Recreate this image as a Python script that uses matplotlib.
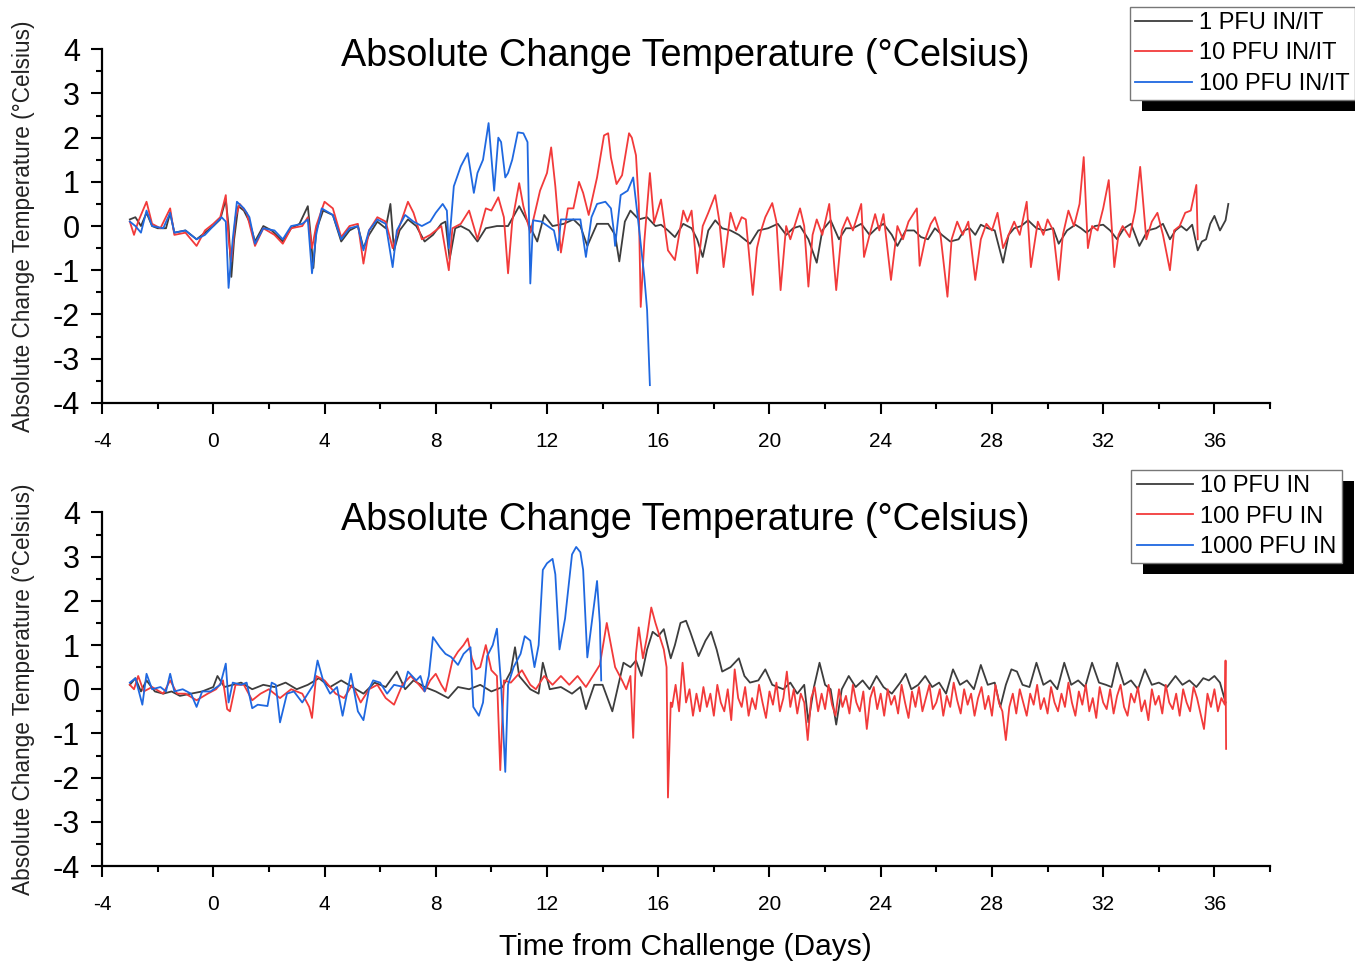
"""Absolute change in body temperature after challenge (two cohorts)."""

import numpy as np
import matplotlib
matplotlib.use("Agg")
import matplotlib.pyplot as plt
import matplotlib.ticker as mticker
from matplotlib.patches import Rectangle

plt.rcParams["font.family"] = ["Liberation Sans", "DejaVu Sans"]
plt.rcParams["axes.unicode_minus"] = False

TITLE = "Absolute Change Temperature (°Celsius)"
YLABEL = "Absolute Change Temperature (°Celsius)"
XLABEL = "Time from Challenge (Days)"

top_labels = ["1 PFU IN/IT", "10 PFU IN/IT", "100 PFU IN/IT"]
bottom_labels = ["10 PFU IN", "100 PFU IN", "1000 PFU IN"]

# (day, delta temp)
top_black = [
    (-3.0, 0.15), (-2.8, 0.2), (-2.6, 0.0), (-2.4, 0.3), (-2.2, 0.0), (-2.0, -0.05), (-1.7, -0.05),
    (-1.55, 0.3), (-1.4, -0.15), (-1.0, -0.1), (-0.6, -0.3), (-0.3, -0.15), (0.0, 0.0), (0.25, 0.15),
    (0.45, 0.6), (0.55, 0.0), (0.65, -1.15), (0.75, -0.3), (0.9, 0.45), (1.1, 0.35), (1.3, 0.1),
    (1.5, -0.35), (1.8, 0.0), (2.1, -0.1), (2.5, -0.35), (2.8, -0.05), (3.1, 0.05), (3.4, 0.45),
    (3.5, -0.2), (3.6, -0.95), (3.7, -0.1), (3.95, 0.35), (4.3, 0.25), (4.6, -0.35), (4.9, -0.1),
    (5.2, 0.0), (5.4, -0.5), (5.6, -0.2), (5.9, 0.1), (6.2, -0.05), (6.37, 0.5), (6.5, -0.55),
    (6.7, -0.1), (7.0, 0.15), (7.3, 0.0), (7.6, -0.35), (7.9, -0.2), (8.2, 0.05), (8.35, 0.1),
    (8.5, -0.75), (8.7, -0.05), (8.9, 0.0), (9.2, -0.1), (9.5, -0.35), (9.8, -0.05), (10.2, 0.0),
    (10.6, 0.0), (11.0, 0.45), (11.3, 0.1), (11.65, -0.35), (11.9, 0.25), (12.2, 0.0), (12.6, 0.05),
    (12.95, 0.15), (13.2, 0.0), (13.45, -0.45), (13.8, 0.05), (14.2, 0.05), (14.45, -0.2), (14.6, -0.8),
    (14.8, 0.1), (15.0, 0.35), (15.3, 0.15), (15.6, 0.2), (15.9, 0.0), (16.1, 0.03), (16.35, -0.1),
    (16.6, -0.25), (16.9, 0.05), (17.2, -0.05), (17.4, -0.3), (17.6, -0.7), (17.8, -0.1), (18.05, 0.13),
    (18.3, -0.05), (18.6, -0.1), (18.9, -0.2), (19.3, -0.4), (19.6, -0.1), (19.95, -0.05), (20.3, 0.05),
    (20.6, -0.2), (20.85, -0.05), (21.1, 0.0), (21.4, -0.3), (21.7, -0.83), (21.9, -0.1), (22.2, 0.13),
    (22.5, -0.3), (22.75, -0.05), (23.0, -0.05), (23.3, 0.05), (23.6, -0.2), (23.85, -0.05), (24.1, 0.05),
    (24.4, -0.2), (24.6, -0.45), (24.9, -0.1), (25.2, -0.1), (25.45, -0.25), (25.7, -0.3), (25.95, -0.05),
    (26.2, -0.2), (26.5, -0.35), (26.8, -0.3), (27.0, -0.1), (27.2, -0.05), (27.4, -0.2), (27.6, 0.03),
    (27.85, -0.05), (28.1, -0.1), (28.4, -0.83), (28.6, -0.2), (28.8, -0.05), (29.05, 0.0), (29.3, 0.13),
    (29.6, -0.05), (29.9, -0.1), (30.2, -0.05), (30.4, -0.4), (30.7, -0.1), (31.0, 0.03), (31.2, -0.05),
    (31.4, -0.15), (31.7, 0.0), (32.0, 0.03), (32.25, -0.1), (32.5, -0.3), (32.75, -0.05), (33.0, 0.05),
    (33.3, -0.45), (33.6, -0.1), (33.9, -0.05), (34.15, 0.05), (34.4, -0.3), (34.6, -0.1), (34.8, 0.0),
    (35.0, -0.1), (35.2, 0.03), (35.4, -0.55), (35.55, -0.35), (35.7, -0.3), (35.85, 0.05), (36.0, 0.23),
    (36.2, -0.1), (36.4, 0.13), (36.5, 0.5),
]

top_red = [
    (-3.0, 0.1), (-2.85, -0.2), (-2.7, 0.1), (-2.4, 0.55), (-2.2, 0.05), (-1.9, -0.05), (-1.55, 0.4),
    (-1.4, -0.2), (-1.0, -0.15), (-0.6, -0.45), (-0.3, -0.1), (0.0, 0.05), (0.25, 0.2), (0.45, 0.7),
    (0.55, -0.3), (0.65, -0.8), (0.8, 0.2), (0.95, 0.5), (1.2, 0.3), (1.5, -0.45), (1.8, -0.05),
    (2.2, -0.2), (2.5, -0.4), (2.8, -0.05), (3.2, 0.0), (3.4, 0.2), (3.55, -0.5), (3.7, 0.0),
    (4.0, 0.55), (4.3, 0.4), (4.6, -0.25), (4.9, 0.0), (5.2, 0.05), (5.4, -0.85), (5.6, -0.1),
    (5.9, 0.2), (6.2, 0.1), (6.45, -0.5), (6.7, 0.0), (7.0, 0.55), (7.2, 0.3), (7.5, -0.3),
    (7.8, -0.2), (8.2, 0.0), (8.47, -1.0), (8.6, -0.05), (8.9, 0.05), (9.2, 0.35), (9.5, -0.3),
    (9.8, 0.4), (10.0, 0.35), (10.25, 0.65), (10.45, 0.2), (10.6, -1.07), (10.75, 0.1), (11.0, 0.97),
    (11.15, 0.45), (11.4, -0.15), (11.75, 0.8), (12.0, 1.2), (12.15, 1.78), (12.3, 0.9), (12.5, -0.6),
    (12.75, 0.4), (12.95, 0.4), (13.15, 1.0), (13.3, 0.75), (13.5, 0.25), (13.8, 1.1), (14.05, 2.05),
    (14.2, 2.1), (14.3, 1.55), (14.5, 0.95), (14.7, 1.15), (14.95, 2.1), (15.05, 2.0), (15.2, 1.6),
    (15.3, 0.5), (15.37, -1.83), (15.5, -0.35), (15.7, 1.2), (15.85, 0.07), (16.1, 0.6), (16.35, -0.55),
    (16.6, -0.77), (16.75, -0.2), (16.9, 0.35), (17.05, 0.1), (17.2, 0.35), (17.4, -1.07), (17.6, 0.0),
    (17.8, 0.3), (18.05, 0.7), (18.2, 0.1), (18.35, -0.93), (18.6, 0.3), (18.8, -0.1), (19.0, 0.2),
    (19.15, 0.15), (19.4, -1.56), (19.55, -0.5), (19.7, -0.1), (19.85, 0.2), (20.1, 0.52), (20.25, 0.1),
    (20.4, -1.45), (20.6, 0.0), (20.75, -0.3), (20.9, 0.0), (21.1, 0.4), (21.25, 0.0), (21.4, -1.37),
    (21.55, -0.2), (21.7, 0.15), (21.9, -0.2), (22.15, 0.5), (22.4, -1.45), (22.6, -0.1), (22.8, 0.2),
    (23.0, -0.1), (23.15, 0.2), (23.3, 0.5), (23.4, -0.7), (23.6, -0.2), (23.8, 0.27), (23.95, -0.1),
    (24.1, 0.27), (24.37, -1.22), (24.6, 0.0), (24.8, -0.3), (25.0, 0.1), (25.3, 0.4), (25.4, -0.9),
    (25.6, -0.3), (25.8, 0.05), (25.95, 0.2), (26.15, -0.2), (26.4, -1.6), (26.55, -0.3), (26.75, 0.1),
    (26.95, -0.2), (27.15, 0.1), (27.4, -1.22), (27.6, -0.3), (27.8, 0.05), (28.0, -0.1), (28.2, 0.3),
    (28.4, -0.5), (28.6, -0.2), (28.8, 0.1), (29.0, -0.2), (29.25, 0.55), (29.4, -0.93), (29.65, 0.1),
    (29.85, -0.2), (30.0, 0.15), (30.2, -0.1), (30.4, -1.22), (30.55, -0.2), (30.75, 0.35), (30.95, 0.0),
    (31.15, 0.5), (31.3, 1.56), (31.45, -0.5), (31.6, 0.0), (31.8, -0.1), (32.0, 0.4), (32.2, 1.04),
    (32.4, -0.93), (32.55, -0.2), (32.7, 0.0), (32.95, -0.25), (33.15, 0.35), (33.33, 1.34), (33.55, -0.3),
    (33.75, 0.1), (33.95, 0.3), (34.15, -0.2), (34.4, -1.0), (34.55, -0.1), (34.75, 0.0), (34.95, 0.3),
    (35.15, 0.35), (35.35, 0.93), (35.4, -0.3),
]

top_blue = [
    (-3.0, 0.1), (-2.8, 0.0), (-2.6, -0.15), (-2.4, 0.35), (-2.2, 0.0), (-1.8, -0.05), (-1.55, 0.3),
    (-1.4, -0.15), (-1.0, -0.1), (-0.6, -0.3), (-0.3, -0.2), (0.0, 0.0), (0.3, 0.2), (0.45, 0.1),
    (0.55, -1.4), (0.7, -0.3), (0.85, 0.55), (1.1, 0.4), (1.3, 0.2), (1.5, -0.4), (1.8, -0.05),
    (2.2, -0.1), (2.5, -0.3), (2.8, 0.0), (3.2, 0.05), (3.4, 0.15), (3.55, -1.07), (3.7, -0.2),
    (3.9, 0.4), (4.3, 0.25), (4.6, -0.3), (4.9, -0.05), (5.2, 0.0), (5.4, -0.55), (5.6, -0.1),
    (5.9, 0.15), (6.2, 0.05), (6.45, -0.93), (6.6, -0.1), (6.9, 0.25), (7.2, 0.1), (7.5, 0.0),
    (7.8, 0.1), (8.0, 0.3), (8.25, 0.5), (8.4, 0.35), (8.47, -0.5), (8.65, 0.9), (8.9, 1.35),
    (9.15, 1.65), (9.37, 0.75), (9.5, 1.2), (9.7, 1.5), (9.9, 2.33), (10.1, 0.8), (10.25, 2.0),
    (10.35, 1.9), (10.5, 1.1), (10.6, 1.2), (10.75, 1.5), (10.95, 2.12), (11.15, 2.1), (11.3, 1.9),
    (11.4, -1.3), (11.5, 0.13), (11.8, 0.1), (12.25, -0.1), (12.4, -0.55), (12.5, 0.15), (12.9, 0.15),
    (13.2, 0.15), (13.4, -0.7), (13.6, 0.2), (13.8, 0.5), (14.1, 0.55), (14.3, 0.4), (14.4, -0.1),
    (14.45, -0.45), (14.65, 0.7), (14.9, 0.8), (15.1, 1.1), (15.3, 0.0), (15.5, -1.15), (15.6, -1.9),
    (15.7, -3.6),
]

bottom_black = [
    (-3.0, 0.1), (-2.8, 0.25), (-2.6, -0.05), (-2.4, 0.2), (-2.1, -0.05), (-1.8, -0.1), (-1.5, -0.05),
    (-1.2, -0.15), (-0.8, -0.1), (-0.4, -0.05), (0.0, 0.05), (0.15, 0.3), (0.4, 0.05), (0.7, 0.1),
    (1.0, 0.15), (1.4, 0.0), (1.8, 0.1), (2.2, 0.05), (2.6, 0.15), (3.0, 0.0), (3.4, 0.1), (3.8, 0.25),
    (4.2, 0.05), (4.6, 0.2), (5.0, 0.05), (5.4, -0.1), (5.8, 0.15), (6.2, 0.05), (6.6, 0.4), (6.9, 0.0),
    (7.2, 0.2), (7.6, 0.05), (8.0, -0.05), (8.45, -0.2), (8.8, 0.05), (9.2, 0.0), (9.6, 0.1),
    (10.0, -0.05), (10.4, 0.05), (10.7, 0.4), (10.85, 0.95), (11.0, 0.3), (11.4, 0.0), (11.7, -0.1),
    (11.85, 0.6), (12.1, 0.0), (12.5, 0.05), (12.9, -0.1), (13.2, 0.05), (13.4, -0.45), (13.7, 0.1),
    (14.0, 0.1), (14.35, -0.5), (14.75, 0.6), (15.0, 0.5), (15.2, 0.65), (15.4, 0.3), (15.6, 0.9),
    (15.8, 1.3), (16.0, 1.2), (16.2, 1.36), (16.45, 0.7), (16.6, 1.0), (16.8, 1.5), (17.0, 1.55),
    (17.15, 1.3), (17.45, 0.75), (17.7, 1.1), (17.9, 1.3), (18.1, 0.9), (18.3, 0.4), (18.6, 0.5),
    (18.9, 0.7), (19.1, 0.3), (19.3, 0.15), (19.6, 0.2), (19.85, 0.45), (20.1, 0.1), (20.5, 0.0),
    (20.75, 0.15), (21.0, -0.1), (21.25, 0.1), (21.4, -0.75), (21.6, 0.05), (21.8, 0.6), (22.0, 0.1),
    (22.2, 0.0), (22.4, -0.8), (22.6, 0.0), (22.85, 0.3), (23.1, 0.05), (23.35, 0.2), (23.6, 0.0),
    (23.85, 0.3), (24.1, 0.05), (24.4, -0.1), (24.7, 0.15), (24.9, 0.35), (25.1, 0.0), (25.35, 0.1),
    (25.6, 0.3), (25.85, 0.05), (26.1, 0.15), (26.35, -0.1), (26.6, 0.45), (26.85, 0.1), (27.1, 0.2),
    (27.35, 0.0), (27.6, 0.55), (27.85, 0.1), (28.1, 0.15), (28.3, -0.4), (28.5, 0.1), (28.7, 0.45),
    (28.9, 0.4), (29.1, 0.1), (29.35, 0.05), (29.6, 0.6), (29.85, 0.1), (30.1, 0.2), (30.35, 0.0),
    (30.6, 0.6), (30.85, 0.1), (31.1, 0.2), (31.35, 0.05), (31.6, 0.6), (31.85, 0.15), (32.1, 0.1),
    (32.3, 0.05), (32.5, 0.6), (32.75, 0.1), (33.0, 0.2), (33.25, 0.0), (33.5, 0.45), (33.75, 0.1),
    (34.0, 0.15), (34.3, 0.05), (34.6, 0.3), (34.85, 0.1), (35.1, 0.2), (35.35, 0.05), (35.6, 0.25),
    (35.8, 0.2), (36.0, 0.3), (36.2, 0.15), (36.4, -0.3),
]

bottom_red_early = [
    (-3.0, 0.1), (-2.85, 0.0), (-2.7, 0.3), (-2.5, -0.05), (-2.2, 0.05), (-1.8, -0.1), (-1.55, 0.2),
    (-1.3, -0.1), (-1.0, -0.1), (-0.6, -0.25), (-0.2, -0.1), (0.1, 0.0), (0.35, 0.2), (0.5, -0.45),
    (0.6, -0.5), (0.8, 0.1), (1.1, 0.1), (1.4, -0.25), (1.7, -0.1), (2.0, 0.0), (2.4, -0.2),
    (2.8, 0.0), (3.2, -0.1), (3.45, -0.4), (3.55, -0.65), (3.7, 0.3), (4.0, 0.2), (4.4, -0.1),
    (4.7, -0.2), (5.0, 0.1), (5.3, -0.3), (5.6, 0.0), (5.9, 0.1), (6.2, -0.2), (6.5, -0.35),
    (6.8, 0.1), (7.1, 0.3), (7.4, 0.1), (7.6, -0.05), (7.8, 0.2), (8.0, 0.35), (8.2, 0.1),
    (8.35, -0.05), (8.6, 0.65), (8.8, 0.85), (9.0, 1.0), (9.15, 1.15), (9.3, 0.7), (9.45, 0.45),
    (9.6, 0.5), (9.8, 1.0), (10.0, 0.43), (10.2, 0.3), (10.32, -1.83), (10.45, 0.2), (10.7, 0.15),
    (11.1, 0.43), (11.4, 0.1), (11.6, 0.0), (11.9, 0.3), (12.2, 0.1), (12.5, 0.3), (12.8, 0.1),
    (13.1, 0.3), (13.4, 0.05), (13.7, 0.35), (13.9, 0.55), (14.15, 1.5), (14.3, 1.0), (14.45, 0.5),
    (14.7, 0.2), (14.85, 0.0), (15.0, 0.3), (15.1, -1.1), (15.2, 0.8), (15.3, 1.4), (15.45, 0.7),
    (15.6, 1.2), (15.75, 1.85), (15.9, 1.5), (16.05, 1.2), (16.2, 0.9), (16.3, 0.5), (16.35, -2.45),
    (16.45, -0.3),
]

# noisy tail of the 100 PFU IN trace, 8 readings per day from day 16.5
bottom_red_tail = [
    -0.4, 0.1, -0.5, 0.6, -0.3, 0.0, -0.6, -0.1,
    -0.5, 0.05, -0.4, -0.1, -0.6, 0.1, -0.3, -0.5,
    0.0, -0.7, 0.45, -0.2, -0.4, 0.05, -0.6, -0.2,
    -0.45, 0.1, -0.3, -0.65, -0.05, -0.35, 0.15, -0.5,
    -0.2, 0.4, -0.4, 0.0, -0.55, -0.1, -0.3, -1.15,
    -0.2, 0.05, -0.5, -0.1, -0.45, 0.1, -0.35, -0.6,
    0.0, -0.4, -0.15, -0.55, 0.1, -0.3, -0.5, -0.05,
    -0.9, -0.2, 0.05, -0.45, -0.1, -0.6, 0.0, -0.35,
    -0.15, -0.55, 0.1, -0.3, -0.65, -0.05, -0.4, 0.05,
    -0.5, -0.2, 0.1, -0.45, -0.3, 0.0, -0.6, -0.15,
    -0.4, 0.15, -0.25, -0.55, 0.0, -0.35, -0.1, -0.6,
    -0.2, 0.05, -0.45, -0.15, -0.6, 0.1, -0.3, -0.5,
    -1.15, -0.4, -0.1, -0.55, 0.0, -0.3, -0.6, -0.1,
    -0.35, 0.1, -0.45, -0.2, -0.55, 0.05, -0.3, -0.5,
    -0.1, -0.4, 0.15, -0.3, -0.6, -0.05, -0.35, 0.1,
    -0.5, -0.2, -0.65, 0.05, -0.3, -0.45, 0.0, -0.55,
    -0.15, 0.1, -0.4, -0.6, -0.1, -0.3, 0.05, -0.5,
    -0.25, -0.7, 0.0, -0.35, -0.15, -0.55, 0.1, -0.3,
    -0.45, -0.1, -0.6, 0.0, -0.3, -0.5, 0.05, -0.2,
    -0.55, -0.9, -0.1, -0.4, 0.0, -0.5, -0.2, -0.35,
]
bottom_red_end = [(36.4, 0.65), (36.42, -1.35)]

bottom_blue = [
    (-3.0, 0.15), (-2.8, 0.25), (-2.55, -0.35), (-2.4, 0.35), (-2.2, 0.0), (-1.9, 0.05), (-1.7, -0.05),
    (-1.55, 0.35), (-1.4, -0.05), (-1.1, 0.0), (-0.8, -0.1), (-0.6, -0.4), (-0.4, -0.05), (-0.1, -0.05),
    (0.25, 0.1), (0.45, 0.58), (0.55, -0.3), (0.7, 0.15), (1.0, 0.1), (1.2, 0.15), (1.4, -0.43),
    (1.6, -0.35), (1.95, -0.38), (2.1, 0.15), (2.25, 0.1), (2.4, -0.75), (2.65, -0.1), (2.9, -0.05),
    (3.2, -0.3), (3.4, -0.1), (3.6, 0.1), (3.75, 0.65), (3.95, 0.2), (4.2, -0.1), (4.45, 0.05),
    (4.65, -0.6), (4.95, 0.35), (5.2, -0.5), (5.4, -0.7), (5.6, 0.0), (5.75, 0.2), (6.0, 0.15),
    (6.25, -0.1), (6.5, 0.1), (6.85, 0.05), (7.0, 0.4), (7.3, 0.2), (7.45, 0.3), (7.6, -0.05),
    (7.75, 0.3), (7.9, 1.18), (8.15, 0.95), (8.35, 0.8), (8.55, 0.73), (8.8, 0.55), (9.0, 0.8),
    (9.25, 0.95), (9.35, -0.4), (9.55, -0.6), (9.7, -0.3), (9.85, 0.75), (10.05, 1.0), (10.2, 1.37),
    (10.35, 0.1), (10.5, -1.87), (10.6, 0.1), (10.8, 0.5), (11.05, 0.8), (11.2, 1.2), (11.4, 1.1),
    (11.55, 0.5), (11.7, 1.0), (11.85, 2.7), (12.0, 2.85), (12.2, 2.95), (12.3, 2.6), (12.45, 0.9),
    (12.65, 1.6), (12.9, 3.05), (13.05, 3.22), (13.2, 3.1), (13.3, 2.7), (13.45, 0.72), (13.7, 1.95),
    (13.8, 2.45), (13.9, 1.5), (13.95, 0.2),
]

C_BLACK = "#3d3d3d"
C_RED = "#f23a3a"
C_BLUE = "#1f68e0"


def xy(pairs):
    a = np.array(pairs, dtype=float)
    return a[:, 0], a[:, 1]


tail_days = np.linspace(16.5, 36.375, len(bottom_red_tail))
er_d, er_v = xy(bottom_red_early)
end_d, end_v = xy(bottom_red_end)
bottom_red_d = np.concatenate([er_d, tail_days, end_d])
bottom_red_v = np.concatenate([er_v, bottom_red_tail, end_v])

fig = plt.figure(figsize=(13.55, 9.66), dpi=100)
ax_top = fig.add_axes([0.0753, 0.583, 0.862, 0.366])
ax_bot = fig.add_axes([0.0753, 0.1035, 0.862, 0.366])


def style(ax):
    ax.set_xlim(-4, 38)
    ax.set_ylim(-4, 4)
    ax.spines["top"].set_visible(False)
    ax.spines["right"].set_visible(False)
    for s in ("left", "bottom"):
        ax.spines[s].set_linewidth(1.6)
    ax.xaxis.set_major_locator(mticker.MultipleLocator(4))
    ax.xaxis.set_minor_locator(mticker.MultipleLocator(2))
    ax.yaxis.set_major_locator(mticker.MultipleLocator(1))
    ax.yaxis.set_minor_locator(mticker.MultipleLocator(0.5))
    ax.tick_params(which="major", length=8, width=1.5, direction="out")
    ax.tick_params(which="minor", length=4, width=1.5, direction="out")
    ax.tick_params(axis="y", labelsize=22, pad=8)
    ax.tick_params(axis="x", labelsize=15, pad=13)
    ax.set_ylabel(YLABEL, fontsize=16.3, color="#222222")
    ax.yaxis.set_label_coords(-0.057, 0.5)
    ax.text(0.499, 0.98, TITLE, transform=ax.transAxes, ha="center", va="center", fontsize=27.3)


lw = 1.3
d, v = xy(top_black)
l1, = ax_top.plot(d, v, color=C_BLACK, lw=lw)
d, v = xy(top_red)
l2, = ax_top.plot(d, v, color=C_RED, lw=lw)
d, v = xy(top_blue)
l3, = ax_top.plot(d, v, color=C_BLUE, lw=lw)
style(ax_top)

d, v = xy(bottom_black)
m1, = ax_bot.plot(d, v, color=C_BLACK, lw=lw)
m2, = ax_bot.plot(bottom_red_d, bottom_red_v, color=C_RED, lw=lw)
d, v = xy(bottom_blue)
m3, = ax_bot.plot(d, v, color=C_BLUE, lw=lw)
style(ax_bot)

fig.text(0.506, 0.0197, XLABEL, ha="center", va="center", fontsize=21.5)

leg_kw = dict(loc="upper left", fontsize=17, frameon=True, fancybox=False, framealpha=1,
              edgecolor="#777777", handlelength=2.4, handletextpad=0.3, labelspacing=0.36,
              borderpad=0.22, borderaxespad=0, bbox_transform=fig.transFigure)
leg1 = fig.legend([l1, l2, l3], top_labels, bbox_to_anchor=(0.834, 0.993), **leg_kw)
leg2 = fig.legend([m1, m2, m3], bottom_labels, bbox_to_anchor=(0.835, 0.5135), **leg_kw)
for leg in (leg1, leg2):
    leg.set_zorder(6)
    leg.get_frame().set_linewidth(1.0)

# solid black drop shadow behind each legend box
fig.canvas.draw()
inv = fig.transFigure.inverted()
for leg in (leg1, leg2):
    bb = leg.get_window_extent().transformed(inv)
    dx, dy = 12 / 1355, 11 / 966
    fig.add_artist(Rectangle((bb.x0 + dx, bb.y0 - dy), bb.width, bb.height,
                             transform=fig.transFigure, facecolor="black", edgecolor="none", zorder=5))

fig.savefig("out.png", dpi=100)
